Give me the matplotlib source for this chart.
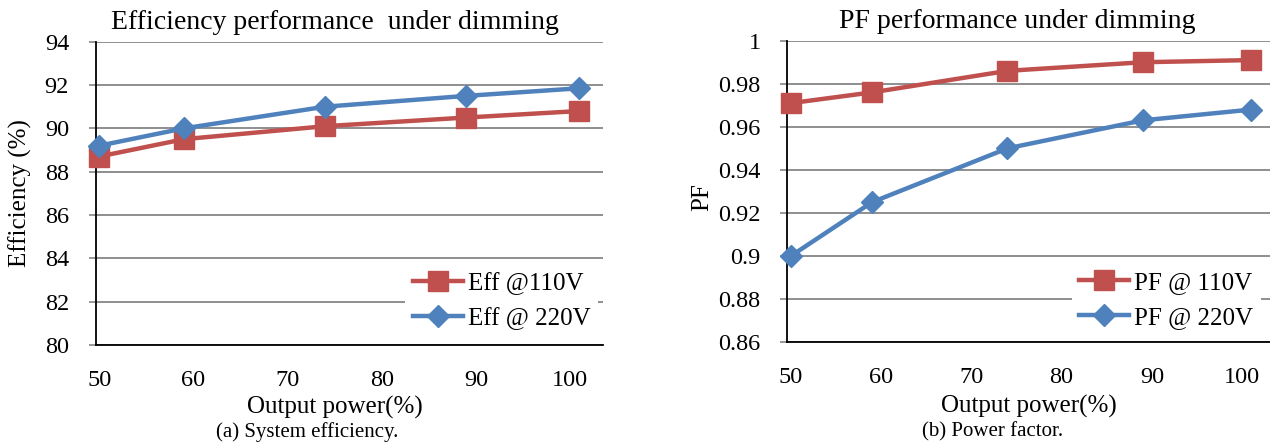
import matplotlib
matplotlib.use("Agg")
import matplotlib.pyplot as plt

plt.rcParams["font.family"] = ["Liberation Serif", "DejaVu Serif"]

# output power (%) at each measured point
POWER = [50, 59, 74, 89, 101]
X_TICKS = [50, 60, 70, 80, 90, 100]

EFF_110V = [88.7, 89.5, 90.1, 90.5, 90.8]
EFF_220V = [89.2, 90.0, 91.0, 91.5, 91.85]
EFF_TICKS = [80, 82, 84, 86, 88, 90, 92, 94]

PF_110V = [0.971, 0.976, 0.986, 0.990, 0.991]
PF_220V = [0.900, 0.925, 0.950, 0.963, 0.968]
PF_TICKS = [0.86, 0.88, 0.90, 0.92, 0.94, 0.96, 0.98, 1.00]
PF_TICK_LABELS = ["0.86", "0.88", "0.9", "0.92", "0.94", "0.96", "0.98", "1"]

RED = "#C0504D"
BLUE = "#4F81BD"
GRID = "#868686"

TICK_FS = 17.5
LABEL_FS = 18
TITLE_FS = 20
LEGEND_FS = 18


def style_axis(ax, yticks, ytick_labels, ylim, xlim):
    ax.set_xlim(*xlim)
    ax.set_ylim(*ylim)
    ax.set_xticks(X_TICKS)
    ax.set_xticklabels([str(t) for t in X_TICKS], fontsize=TICK_FS)
    ax.set_yticks(yticks)
    ax.set_yticklabels(ytick_labels, fontsize=TICK_FS)
    ax.tick_params(axis="x", length=0, pad=18)
    ax.tick_params(axis="y", length=5, width=1.2, color=GRID, pad=14)
    ax.grid(axis="y", color=GRID, linewidth=1.3)
    ax.set_axisbelow(True)
    for side in ("top", "right"):
        ax.spines[side].set_visible(False)
    for side in ("left", "bottom"):
        ax.spines[side].set_linewidth(1.3)
        ax.spines[side].set_color("black")


def draw_panel(ax, y1, y2, labels):
    ax.plot(POWER, y1, color=RED, linewidth=3.2, marker="s", markersize=15,
            label=labels[0], clip_on=False, zorder=3)
    ax.plot(POWER, y2, color=BLUE, linewidth=3.2, marker="D", markersize=11,
            label=labels[1], clip_on=False, zorder=4)


def add_legend(ax, anchor):
    return ax.legend(loc="center left", bbox_to_anchor=anchor, fontsize=LEGEND_FS,
                     frameon=True, facecolor="white", edgecolor="none", framealpha=1,
                     fancybox=False, handlelength=2.0, handletextpad=0.2,
                     borderpad=0.3, labelspacing=0.5, borderaxespad=0)


fig = plt.figure(figsize=(12.7, 4.44), dpi=100)
ax1 = fig.add_axes([0.0752, 0.2230, 0.3996, 0.6831])
ax2 = fig.add_axes([0.6197, 0.2297, 0.3803, 0.6786])

# (a) efficiency
draw_panel(ax1, EFF_110V, EFF_220V, ["Eff @110V", "Eff @ 220V"])
style_axis(ax1, EFF_TICKS, [str(t) for t in EFF_TICKS], (80, 94), (49.6, 103.5))
ax1.set_title("Efficiency performance  under dimming", fontsize=TITLE_FS, x=0.472, pad=9)
ax1.set_xlabel("Output power(%)", fontsize=LABEL_FS)
ax1.xaxis.set_label_coords(0.472, -0.205)
ax1.xaxis.label.set_va("center")
ax1.set_ylabel("Efficiency (%)", fontsize=LABEL_FS)
ax1.yaxis.set_label_coords(-0.149, 0.50)
ax1.yaxis.label.set_va("center")
add_legend(ax1, (0.61, 0.145))

# (b) power factor
draw_panel(ax2, PF_110V, PF_220V, ["PF @ 110V", "PF @ 220V"])
style_axis(ax2, PF_TICKS, PF_TICK_LABELS, (0.86, 1.0), (49.56, 103.1))
ax2.set_title("PF performance under dimming", fontsize=TITLE_FS, x=0.476, pad=9)
ax2.set_xlabel("Output power(%)", fontsize=LABEL_FS)
ax2.xaxis.set_label_coords(0.501, -0.215)
ax2.xaxis.label.set_va("center")
ax2.set_ylabel("PF", fontsize=LABEL_FS)
ax2.yaxis.set_label_coords(-0.175, 0.481)
ax2.yaxis.label.set_va("center")
add_legend(ax2, (0.59, 0.138))

fig.text(307 / 1270, 1 - 432 / 444, "(a) System efficiency.", fontsize=15, ha="center", va="center")
fig.text(993 / 1270, 1 - 432 / 444, "(b) Power factor.", fontsize=15, ha="center", va="center")

fig.savefig("out.png", dpi=100)
